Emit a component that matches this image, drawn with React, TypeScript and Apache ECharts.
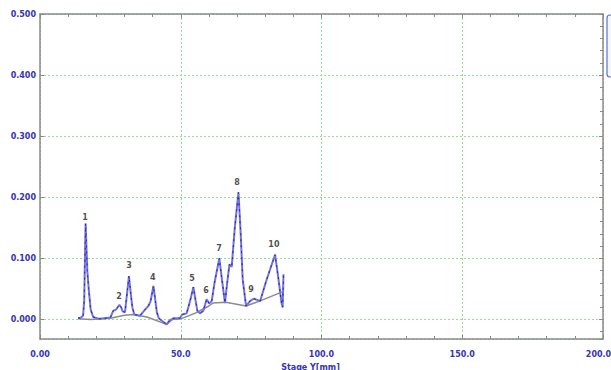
import React, { useEffect, useRef } from "react";
import * as echarts from "echarts";

const xTicks = [0, 50, 100, 150, 200];
const yTicks = [0, 0.1, 0.2, 0.3, 0.4, 0.5];

const traceX = [13.5, 14.5, 15.3, 15.7, 16.2, 16.8, 17.3, 18.0, 18.9, 21, 23, 25, 26, 27, 27.6, 28.2, 28.8, 29.4, 30.2, 31.6, 32.3, 32.8, 33.5, 35.5, 37.3, 38.5, 39.3, 40.3, 41.0, 41.5, 42.2, 43.5, 45, 46, 47.5, 49.7, 50.5, 52.1, 53.3, 54.5, 55.3, 55.9, 56.8, 58.0, 59.2, 60.1, 61.0, 62.0, 63.7, 64.5, 65.7, 66.5, 67.3, 68.1, 69.2, 70.5, 71.3, 72.0, 73.2, 74.6, 76.0, 78.2, 80.5, 83.5, 84.6, 85.8, 86.2, 86.5];
const traceY = [0.002, 0.003, 0.006, 0.03, 0.157, 0.08, 0.05, 0.016, 0.004, 0.001, 0.002, 0.003, 0.014, 0.016, 0.02, 0.024, 0.02, 0.013, 0.012, 0.071, 0.04, 0.02, 0.008, 0.006, 0.016, 0.022, 0.03, 0.055, 0.03, 0.012, 0.002, -0.003, -0.008, -0.002, 0.002, 0.002, 0.008, 0.01, 0.03, 0.053, 0.03, 0.014, 0.01, 0.014, 0.033, 0.026, 0.03, 0.06, 0.1, 0.07, 0.027, 0.06, 0.09, 0.086, 0.15, 0.208, 0.14, 0.066, 0.022, 0.03, 0.034, 0.03, 0.065, 0.106, 0.07, 0.027, 0.02, 0.074];

const baseX = [13.5, 18, 25, 30, 33, 38, 45, 47, 50, 55, 60, 61.5, 66, 73.2, 78, 86.5];
const baseY = [0.001, 0.0, 0.002, 0.007, 0.008, 0.004, -0.008, 0.0, 0.001, 0.01, 0.022, 0.027, 0.028, 0.022, 0.03, 0.046];

const peakNames = ["1", "2", "3", "4", "5", "6", "7", "8", "9", "10"];
const peakLabelX = [16.0, 28.1, 31.6, 40.1, 54.0, 59.0, 63.6, 70.0, 75.0, 83.1];
const peakLabelY = [0.167, 0.038, 0.088, 0.069, 0.067, 0.047, 0.116, 0.224, 0.049, 0.123];

const FONT = "DejaVu Sans";
const LABEL_BLUE = "#3535b5";
const FRAME = "#8a8a8a";
const GRID_GREEN = "#8fe08f";

export default function App() {
  const ref = useRef<HTMLDivElement>(null);
  useEffect(() => {
    if (!ref.current) return;
    const chart = echarts.init(ref.current, undefined, { renderer: "svg" });
    const trace = traceX.map((x, i) => [x, traceY[i]]);
    const base = baseX.map((x, i) => [x, baseY[i]]);
    const peaks = peakNames.map((n, i) => ({ name: n, value: [peakLabelX[i], peakLabelY[i]] }));
    const xMax = xTicks[xTicks.length - 1];
    chart.setOption({
      animation: false,
      backgroundColor: "#ffffff",
      grid: { left: 40, top: 14, right: 8, bottom: 31, containLabel: false, outerBoundsMode: "none" },
      graphic: [
        {
          type: "rect",
          shape: { x: 607, y: 15, width: 20, height: 62, r: 3 },
          style: { fill: "#f4f6ff", stroke: "#5a6fd8", lineWidth: 1.2 },
          silent: true,
        },
      ],
      xAxis: [
        {
          type: "value",
          min: xTicks[0],
          max: xMax,
          interval: 50,
          axisLine: { show: true, onZero: false, lineStyle: { color: FRAME, width: 1.5 } },
          axisTick: { show: true, inside: true, length: 4, lineStyle: { color: FRAME } },
          minorTick: { show: true, splitNumber: 5, length: 3, lineStyle: { color: FRAME } },
          splitLine: { show: true, lineStyle: { color: GRID_GREEN, type: [2, 2], width: 1 } },
          axisLabel: {
            margin: 11,
            color: LABEL_BLUE,
            fontFamily: FONT,
            fontWeight: "bold",
            fontSize: 8,
            formatter: (v: number) =>
              v === 0 ? "0.00" : v === xMax ? "{last|" + v.toFixed(1) + "}" : v.toFixed(1),
            rich: {
              last: {
                color: LABEL_BLUE,
                fontFamily: FONT,
                fontWeight: "bold",
                fontSize: 8,
                padding: [0, 9, 0, 0],
              },
            },
          },
          name: "Stage Y[mm]",
          nameLocation: "middle",
          nameGap: 24,
          nameTextStyle: {
            color: LABEL_BLUE,
            fontFamily: FONT,
            fontWeight: "bold",
            fontSize: 8,
            padding: [0, 22, 0, 0],
          },
        },
        {
          type: "value",
          position: "top",
          min: 0,
          max: 200,
          interval: 50,
          axisLine: { show: true, onZero: false, lineStyle: { color: FRAME, width: 1.5 } },
          axisTick: { show: true, inside: true, length: 4, lineStyle: { color: FRAME } },
          minorTick: { show: true, splitNumber: 5, length: 3, lineStyle: { color: FRAME } },
          splitLine: { show: false },
          axisLabel: { show: false },
        },
      ],
      yAxis: [
        {
          type: "value",
          min: -0.032,
          max: yTicks[yTicks.length - 1],
          splitNumber: 5,
          axisLine: { show: true, onZero: false, lineStyle: { color: FRAME, width: 1.5 } },
          axisTick: { show: true, inside: true, length: 4, lineStyle: { color: FRAME } },
          minorTick: { show: false },
          splitLine: { show: true, lineStyle: { color: GRID_GREEN, type: [2, 2], width: 1 } },
          axisLabel: {
            showMinLabel: false,
            margin: 4,
            color: LABEL_BLUE,
            fontFamily: FONT,
            fontWeight: "bold",
            fontSize: 8,
            formatter: (v: number) => v.toFixed(3),
          },
        },
        {
          type: "value",
          position: "right",
          min: -0.032,
          max: 0.5,
          splitNumber: 5,
          axisLine: { show: true, onZero: false, lineStyle: { color: FRAME, width: 1.5 } },
          axisTick: { show: true, inside: true, length: 4, lineStyle: { color: FRAME } },
          minorTick: { show: true, splitNumber: 5, length: 3, lineStyle: { color: FRAME } },
          splitLine: { show: false },
          axisLabel: { show: false },
        },
      ],
      series: [
        {
          type: "line",
          data: base,
          symbol: "none",
          clip: false,
          lineStyle: { color: "#8c8c8c", width: 1.5 },
          z: 2,
        },
        {
          type: "line",
          data: trace,
          symbol: "none",
          clip: false,
          lineStyle: { color: "#7272e2", width: 2 },
          z: 3,
        },
        {
          type: "line",
          data: trace,
          symbol: "none",
          clip: false,
          lineStyle: { color: "#25259c", width: 1, type: [2, 4] },
          z: 4,
        },
        {
          type: "scatter",
          data: peaks,
          symbolSize: 1,
          itemStyle: { color: "rgba(0,0,0,0)" },
          label: {
            show: true,
            position: "inside",
            formatter: "{b}",
            color: "#222222",
            fontFamily: FONT,
            fontWeight: "bold",
            fontSize: 8,
          },
          z: 5,
        },
      ],
    });
    return () => chart.dispose();
  }, []);
  return <div ref={ref} style={{ width: 611, height: 370, position: "absolute", left: 0, top: 0 }} />;
}
